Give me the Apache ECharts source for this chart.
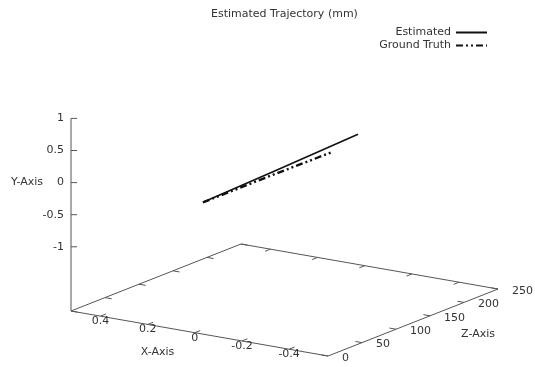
<!DOCTYPE html>
<html>
<head>
<meta charset="utf-8">
<script src="https://cdn.jsdelivr.net/npm/echarts@6/dist/echarts.min.js"></script>
<style>
  html, body { margin: 0; padding: 0; background: #fff; }
  #chart { width: 535px; height: 367px; }
</style>
</head>
<body>
<div id="chart"></div>
<script>
// trajectory samples (x, y, z) in mm
const estX = [0, 0, 0]
const estY = [-0.02, 0.03, 0.09]
const estZ = [12, 120, 240]
const gtX = [0, 0, 0]
const gtY = [-0.02, -0.02, -0.03]
const gtZ = [12, 110, 203]

const xTicks = [0.4, 0.2, 0, -0.2, -0.4]
const yTicks = [1, 0.5, 0, -0.5, -1]
const zTicks = [0, 50, 100, 150, 200, 250]

const xRange = [-0.565, 0.525]
const yRange = [-2, 1]   // base plane sits below the labelled -1..1
const zRange = [0, 250]

// orthographic view: where corner (xMax, yMin, zMin) lands and how one unit of each axis moves
const origin = [71, 311]
const ex = [-235.8, -41.3]
const ey = [0, -64.2]
const ez = [0.68, -0.268]

const FONT = 'DejaVu Sans'
const FS = 11

function proj(x, y, z) {
    const dx = x - xRange[1], dy = y - yRange[0], dz = z - zRange[0]
    return [
        origin[0] + dx * ex[0] + dz * ez[0],
        origin[1] + dx * ex[1] + dy * ey[1] + dz * ez[1]
    ]
}

const track = (xs, ys, zs) => zs.map((z, i) => proj(xs[i], ys[i], z))

function renderAxes(params, api) {
    const c = p => api.coord(p)
    const [x0, x1] = xRange, [y0, y1] = yRange, [z0, z1] = zRange
    const stroke = { stroke: '#555', lineWidth: 1 }
    const seg = (a, b) => ({ type: 'line', shape: { x1: a[0], y1: a[1], x2: b[0], y2: b[1] }, style: stroke, silent: true })
    const txt = (p, text, align) => ({
        type: 'text', x: p[0], y: p[1], silent: true,
        style: { text: String(text), fill: '#333', fontSize: FS, fontFamily: FONT, align: align, verticalAlign: 'middle' }
    })
    const kids = []
    // base parallelogram
    const corners = [proj(x1, y0, z0), proj(x0, y0, z0), proj(x0, y0, z1), proj(x1, y0, z1)].map(c)
    kids.push({ type: 'polygon', shape: { points: corners }, style: { fill: 'none', stroke: '#555', lineWidth: 1 }, silent: true })
    // vertical axis
    kids.push(seg(c(proj(x1, y0, z0)), c(proj(x1, y1, z0))))
    yTicks.forEach(t => {
        const p = c(proj(x1, t, z0))
        kids.push(seg(p, [p[0] + 6, p[1]]))
        kids.push(txt([p[0] - 7, p[1]], t, 'right'))
    })
    xTicks.forEach(t => {
        const f = c(proj(t, y0, z0)), b = c(proj(t, y0, z1))
        kids.push(seg(f, c(proj(t, y0, z0 + 8))))
        kids.push(seg(b, c(proj(t, y0, z1 - 8))))
        kids.push(txt([f[0], f[1] + 5], t, 'center'))
    })
    zTicks.forEach(t => {
        const f = c(proj(x0, y0, t)), b = c(proj(x1, y0, t))
        kids.push(seg(f, c(proj(x0 + 0.028, y0, t))))
        kids.push(seg(b, c(proj(x1 - 0.028, y0, t))))
        kids.push(txt([f[0] + 14, f[1] + 2], t, 'left'))
    })
    // axis names
    const yn = c(proj(x1, 0, z0))
    kids.push(txt([yn[0] - 44, yn[1]], 'Y-Axis', 'center'))
    const xn = c(proj((x0 + x1) / 2, y0, z0))
    kids.push(txt([xn[0] - 42, xn[1] + 19], 'X-Axis', 'center'))
    const zn = c(proj(x0, y0, (z0 + z1) / 2))
    kids.push(txt([zn[0] + 65, zn[1] + 12], 'Z-Axis', 'center'))
    return { type: 'group', children: kids }
}

const chart = echarts.init(document.getElementById('chart'))
chart.setOption({
    animation: false,
    title: {
        text: 'Estimated Trajectory (mm)',
        left: 211, top: 9, padding: 0,
        textStyle: { fontSize: FS, fontWeight: 'normal', color: '#333', fontFamily: FONT }
    },
    legend: {
        data: ['Estimated', 'Ground Truth'],
        orient: 'vertical',
        right: 47, top: 27, padding: 0,
        align: 'right',
        itemWidth: 31, itemHeight: 10, itemGap: 2,
        itemStyle: { opacity: 0 },
        textStyle: { fontSize: FS, color: '#333', fontFamily: FONT }
    },
    grid: { left: 0, right: 0, top: 0, bottom: 0 },
    xAxis: { type: 'value', min: 0, max: 535, show: false },
    yAxis: { type: 'value', min: 0, max: 367, inverse: true, show: false },
    series: [
        {
            type: 'custom',
            name: 'axes',
            data: [[0, 0]],
            renderItem: renderAxes,
            silent: true,
            z: 1
        },
        {
            type: 'line',
            name: 'Estimated',
            data: track(estX, estY, estZ),
            symbol: 'none',
            lineStyle: { color: '#111', width: 1.6 },
            itemStyle: { color: '#111' },
            z: 3
        },
        {
            type: 'line',
            name: 'Ground Truth',
            data: track(gtX, gtY, gtZ),
            symbol: 'none',
            lineStyle: { color: '#111', width: 2.4, type: [7, 3, 2, 3, 2, 3] },
            itemStyle: { color: '#111' },
            z: 2
        }
    ]
})
</script>
</body>
</html>
